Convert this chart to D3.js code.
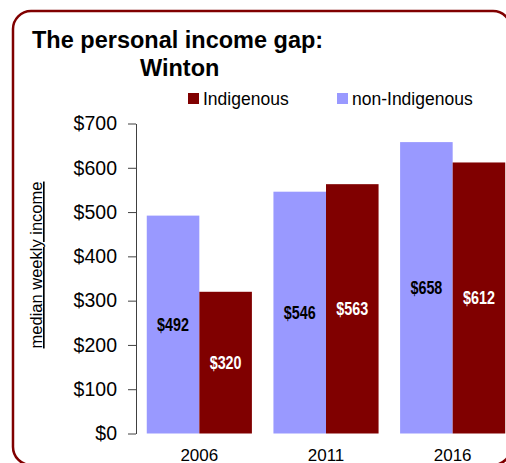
<!DOCTYPE html>
<html>
<head>
<meta charset="utf-8">
<script src="https://cdn.jsdelivr.net/npm/d3@7"></script>
<style>
  html, body { margin: 0; padding: 0; background: #fff; overflow: hidden; }
  svg { display: block; }
</style>
</head>
<body>
<svg id="chart" width="506" height="463"></svg>
<script>
// Census years and median weekly personal income, Winton
const years = ["2006", "2011", "2016"];
const nonIndigenous = [492, 546, 658];
const indigenous = [320, 563, 612];
const seriesNames = ["non-Indigenous", "Indigenous"];
const legendOrder = ["Indigenous", "non-Indigenous"];
const yTicks = [0, 100, 200, 300, 400, 500, 600, 700];

const colors = { "non-Indigenous": "#9999ff", "Indigenous": "#800000" };
const labelColors = { "non-Indigenous": "#000", "Indigenous": "#fff" };

const rows = years.map((y, i) => ({
  year: y,
  values: [
    { series: "non-Indigenous", value: nonIndigenous[i] },
    { series: "Indigenous", value: indigenous[i] }
  ]
}));

const svg = d3.select("#chart");
const sans = "'Liberation Sans', Arial, sans-serif";

// Rounded frame around the chart area
svg.append("rect")
  .attr("x", 13).attr("y", 11)
  .attr("width", 498).attr("height", 454)
  .attr("rx", 18).attr("ry", 18)
  .attr("fill", "none")
  .attr("stroke", "#800000")
  .attr("stroke-width", 2.5);

// Title
svg.append("text")
  .attr("x", 32).attr("y", 48)
  .style("font-family", sans).style("font-weight", "bold").style("font-size", "23.5px")
  .text("The personal income gap:");
svg.append("text")
  .attr("x", 140).attr("y", 76)
  .style("font-family", sans).style("font-weight", "bold").style("font-size", "23.5px")
  .text("Winton");

// Scales
const plotLeft = 136, plotTop = 123.5, plotBottom = 433.5;
const x = d3.scaleBand().domain(years).range([plotLeft, 516])
  .paddingInner(0.17).paddingOuter(0.085);
const xs = d3.scaleBand().domain(seriesNames).range([0, x.bandwidth()]);
const y = d3.scaleLinear().domain([0, 700]).range([plotBottom, plotTop]);

// Bars
const groups = svg.append("g").selectAll("g")
  .data(rows).join("g")
  .attr("transform", d => `translate(${x(d.year)},0)`);

groups.selectAll("rect")
  .data(d => d.values).join("rect")
  .attr("x", d => xs(d.series))
  .attr("y", d => y(d.value))
  .attr("width", xs.bandwidth())
  .attr("height", d => y(0) - y(d.value))
  .attr("fill", d => colors[d.series]);

// Value labels centred in each bar, horizontally condensed
groups.selectAll("text")
  .data(d => d.values).join("text")
  .attr("transform", d =>
    `translate(${xs(d.series) + xs.bandwidth() / 2},${(y(d.value) + y(0)) / 2}) scale(0.82,1)`)
  .attr("text-anchor", "middle")
  .attr("dominant-baseline", "central")
  .style("font-family", sans).style("font-weight", "bold").style("font-size", "17.5px")
  .attr("fill", d => labelColors[d.series])
  .text(d => "$" + d.value);

// Y axis
const yAxis = svg.append("g")
  .attr("transform", `translate(${plotLeft},0)`)
  .call(d3.axisLeft(y).tickValues(yTicks).tickFormat(d => "$" + d)
    .tickSize(8).tickSizeOuter(0).tickPadding(11));
yAxis.select(".domain").attr("stroke", "#404040");
yAxis.selectAll(".tick line").attr("stroke", "#404040");
yAxis.selectAll(".tick text")
  .style("font-family", sans).style("font-size", "19.5px").attr("fill", "#000");

// Year labels
svg.append("g").selectAll("text")
  .data(years).join("text")
  .attr("x", d => x(d) + x.bandwidth() / 2)
  .attr("y", 460.5)
  .attr("text-anchor", "middle")
  .style("font-family", sans).style("font-size", "17px")
  .text(d => d);

// Y axis title
svg.append("text")
  .attr("transform", "translate(42,265) rotate(-90)")
  .attr("text-anchor", "middle")
  .style("font-family", sans).style("font-size", "16.5px")
  .style("text-decoration", "underline")
  .text("median weekly income");

// Legend
const legendX = { "Indigenous": 188, "non-Indigenous": 337 };
const legend = svg.append("g").selectAll("g")
  .data(legendOrder).join("g")
  .attr("transform", d => `translate(${legendX[d]},93)`);
legend.append("rect")
  .attr("width", 11).attr("height", 11)
  .attr("fill", d => colors[d]);
legend.append("text")
  .attr("x", 15).attr("y", 12)
  .style("font-family", sans).style("font-size", "17.5px")
  .text(d => d);
</script>
</body>
</html>
